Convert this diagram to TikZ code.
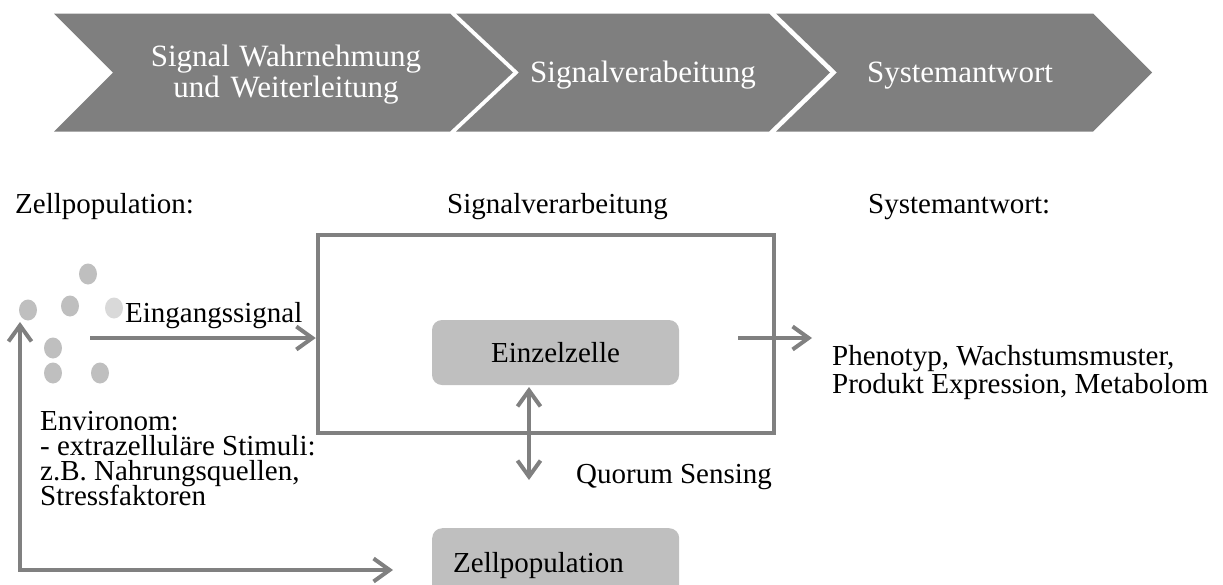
\documentclass[tikz,border=0pt]{standalone}
\usepackage{fontspec}
\setmainfont{Liberation Serif}
\usetikzlibrary{arrows.meta}
\definecolor{chevgray}{HTML}{7F7F7F}
\definecolor{linegray}{HTML}{808080}
\definecolor{boxgray}{HTML}{BFBFBF}
\definecolor{dotgray}{HTML}{BFBFBF}
\definecolor{dotlight}{HTML}{D9D9D9}
\newcommand\tightlines{\lineskiplimit-20pt\relax}
\newcommand\normalspaces{\spaceskip0pt\xspaceskip0pt\relax}
\begin{document}
\begin{tikzpicture}[x=1pt,y=-1pt,
  chev/.style={fill=chevgray,draw=none},
  chevtext/.style={text=white,font=\fontsize{31}{31}\selectfont\tightlines,align=center,inner sep=0pt,anchor=base,execute at begin node=\normalspaces},
  body/.style={font=\fontsize{29}{25}\selectfont\tightlines,inner sep=0pt,anchor=base west,align=left,execute at begin node=\normalspaces},
  conn/.style={draw=linegray,line width=4pt,line join=miter},
  barb/.tip={Straight Barb[length=16pt,width=23pt]},
  arr/.style={-barb},
  arrboth/.style={barb-barb},
  cellbox/.style={fill=boxgray,rounded corners=10pt,inner sep=0pt,font=\fontsize{29}{32}\selectfont},
  dot/.style={fill=dotgray},
  dotl/.style={fill=dotlight}]
\useasboundingbox (0,0) rectangle (1223,584);
\clip (0,0) rectangle (1223,584);

% chevrons
\fill[chev] (54,13.5) -- (450,13.5) -- (513,72.5) -- (450,131.5) -- (54,131.5) -- (113,72.5) -- cycle;
\fill[chev] (456,13.5) -- (769,13.5) -- (830,72.5) -- (769,131.5) -- (456,131.5) -- (519,72.5) -- cycle;
\fill[chev] (776,13.5) -- (1093,13.5) -- (1152,72.5) -- (1093,131.5) -- (776,131.5) -- (837,72.5) -- cycle;
\node[chevtext,text width=320pt] (c1) at (286,66) {Signal Wahrnehmung\\und Weiterleitung};
\node[chevtext] (c2) at (643,82) {Signalverabeitung};
\node[chevtext] (c3) at (960,82) {Systemantwort};

% headings
\node[body] (hz) at (15,213) {Zellpopulation:};
\node[body] (hs) at (447,213) {Signalverarbeitung};
\node[body] (hy) at (868,213) {Systemantwort:};

% processing box
\node[draw=linegray,line width=4.5pt,minimum width=456pt,minimum height=198pt,inner sep=0pt] (proc) at (546,334) {};
\node[cellbox,minimum width=247pt,minimum height=65pt] (ez) at (555.5,352.5) {Einzelzelle};
\node[cellbox,anchor=north west,minimum height=74pt,text width=205pt,inner xsep=21pt,align=left] (zp) at (432,528) {Zellpopulation};

% cells
\fill[dot] (88,274) ellipse [x radius=9pt,y radius=10.5pt];
\fill[dot] (28,310) ellipse [x radius=9pt,y radius=10.5pt];
\fill[dot] (70,306) ellipse [x radius=9pt,y radius=10.5pt];
\fill[dotl] (114,308) ellipse [x radius=9pt,y radius=10.5pt];
\fill[dot] (53,348) ellipse [x radius=9pt,y radius=10.5pt];
\fill[dot] (53,373) ellipse [x radius=9pt,y radius=10.5pt];
\fill[dot] (100,373) ellipse [x radius=9pt,y radius=10.5pt];

% labels
\node[body] (lein) at (125,322) {Eingangssignal};
\node[body] (lqs) at (576,483) {Quorum Sensing};
\node[body,text width=400pt,font=\fontsize{29}{28}\selectfont] (lph) at (832,365) {Phenotyp, Wachstumsmuster,\\Produkt Expression, Metabolom};
\node[body,text width=300pt] (lenv) at (40,430) {Environom:\\- extrazelluläre Stimuli:\\z.B. Nahrungsquellen,\\Stressfaktoren};

% connectors
\coordinate (ein) at (90,338);
\draw[conn,arr] (ein) -- (ein -| proc.west);
\coordinate (outs) at (738,338);
\coordinate (oute) at (812,338);
\draw[conn,arr] (outs) -- (oute);
\coordinate (qtop) at (529,387);
\coordinate (qbot) at (529,480);
\draw[conn,arrboth] (qtop) -- (qbot);
\coordinate (fbtop) at (20,322);
\coordinate (fbcorner) at (20,570);
\coordinate (fbend) at (393,570);
\draw[conn,arrboth] (fbtop) -- (fbcorner) -- (fbend);
\end{tikzpicture}
\end{document}
